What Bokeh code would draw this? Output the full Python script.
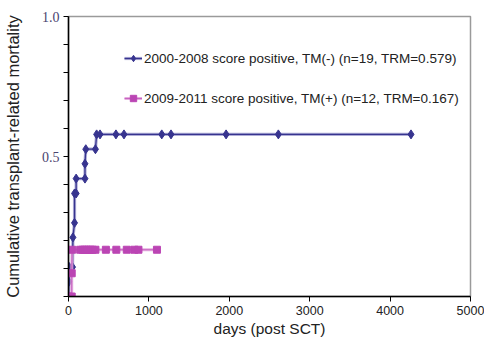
from bokeh.plotting import figure
from bokeh.models import Range1d, FixedTicker, Legend, LegendItem, ColumnDataSource, Title
from bokeh.embed import file_html
from bokeh.resources import INLINE

# ---- data ----
s1_label = "2000-2008 score positive, TM(-) (n=19, TRM=0.579)"
s1_days = [0, 5, 10, 50, 55, 75, 75, 95, 95, 205, 205, 215, 335, 350, 392, 590, 690, 1160, 1275, 1960, 2610, 4260]
s1_trm = [0, 0.053, 0.105, 0.105, 0.211, 0.263, 0.368, 0.368, 0.421, 0.421, 0.474, 0.526, 0.526,
          0.579, 0.579, 0.579, 0.579, 0.579, 0.579, 0.579, 0.579, 0.579]

s2_label = "2009-2011 score positive, TM(+) (n=12, TRM=0.167)"
s2_days = [0, 40, 40, 45, 145, 175, 200, 225, 250, 275, 300, 335, 465, 595, 725, 820, 870, 1100]
s2_trm = [0, 0, 0.083, 0.167, 0.167, 0.167, 0.167, 0.167, 0.167, 0.167, 0.167, 0.167,
          0.167, 0.167, 0.167, 0.167, 0.167, 0.167]

x_ticks = [0, 1000, 2000, 3000, 4000, 5000]
y_ticks = [0.0, 0.1, 0.2, 0.3, 0.4, 0.5, 0.6, 0.7, 0.8, 0.9, 1.0]
y_tick_labels = {0.5: "0.5", 1.0: "1.0"}
x_title = "days (post SCT)"
y_title = "Cumulative transplant-related mortality"

navy = "#37348f"
navy_halo = "#9a97cc"
mag = "#bb45b4"
mag_halo = "#e2a4dc"

p = figure(width=484, height=337, output_backend="svg", toolbar_location=None,
           x_range=Range1d(0, 5000), y_range=Range1d(0, 1),
           min_border_left=68, min_border_right=14, min_border_top=16, min_border_bottom=40)
p.grid.visible = False
p.outline_line_color = "#9a9a9a"
p.outline_line_width = 1.5
p.background_fill_color = "white"
p.border_fill_color = "white"

src1 = ColumnDataSource(dict(x=s1_days, y=s1_trm))
src2 = ColumnDataSource(dict(x=s2_days, y=s2_trm))

h1 = p.line("x", "y", source=src1, line_color=navy_halo, line_width=3.2, line_alpha=0.8)
l1 = p.line("x", "y", source=src1, line_color=navy, line_width=1.3)
m1 = p.scatter("x", "y", source=src1, marker="diamond", size=9, fill_color=navy, line_color=navy)

h2 = p.line("x", "y", source=src2, line_color=mag_halo, line_width=3, line_alpha=0.9)
l2 = p.line("x", "y", source=src2, line_color=mag, line_width=1.0, line_alpha=0.7)
m2 = p.scatter("x", "y", source=src2, marker="square", size=7, fill_color=mag, line_color=mag)

# axes
xa = p.xaxis[0]
xa.ticker = FixedTicker(ticks=x_ticks)
xa.major_label_text_font = "Liberation Sans"
xa.major_label_text_font_size = "12.5px"
xa.major_label_text_color = "#222222"
xa.major_label_standoff = 4
xa.major_tick_out = 5
xa.major_tick_in = 0
xa.minor_tick_line_color = None
xa.axis_line_color = "black"
xa.axis_line_width = 1.5
xa.major_tick_line_color = "black"

xt = Title(text=x_title, align="center", offset=14, standoff=1,
           text_font="Liberation Sans", text_font_size="15.5px",
           text_font_style="normal", text_color="#222222")
p.add_layout(xt, "below")

ya = p.yaxis[0]
ya.ticker = FixedTicker(ticks=y_ticks)
ya.major_label_overrides = {t: y_tick_labels.get(t, "") for t in y_ticks}
ya.axis_label = y_title
ya.axis_label_text_font = "Liberation Sans"
ya.axis_label_text_font_size = "16.5px"
ya.axis_label_text_font_style = "normal"
ya.axis_label_text_color = "#222222"
ya.axis_label_standoff = 17
ya.major_label_text_font = "Liberation Serif"
ya.major_label_text_font_size = "14px"
ya.major_label_text_color = "#4a4470"
ya.major_label_standoff = 4
ya.major_tick_out = 5
ya.major_tick_in = 0
ya.minor_tick_line_color = None
ya.axis_line_color = "black"
ya.axis_line_width = 1.5
ya.major_tick_line_color = "black"

legend = Legend(items=[LegendItem(label=s1_label, renderers=[h1, l1, m1]),
                       LegendItem(label=s2_label, renderers=[h2, l2, m2])],
                location=(56, 190), orientation="vertical")
legend.border_line_color = None
legend.background_fill_alpha = 0
legend.padding = 0
legend.margin = 0
legend.spacing = 24
legend.glyph_height = 16
legend.label_height = 16
legend.glyph_width = 18
legend.label_standoff = 2
legend.label_text_font = "Liberation Sans"
legend.label_text_font_size = "13.5px"
legend.label_text_color = "#222222"
p.add_layout(legend)

open("out.html", "w").write(file_html(p, INLINE))
